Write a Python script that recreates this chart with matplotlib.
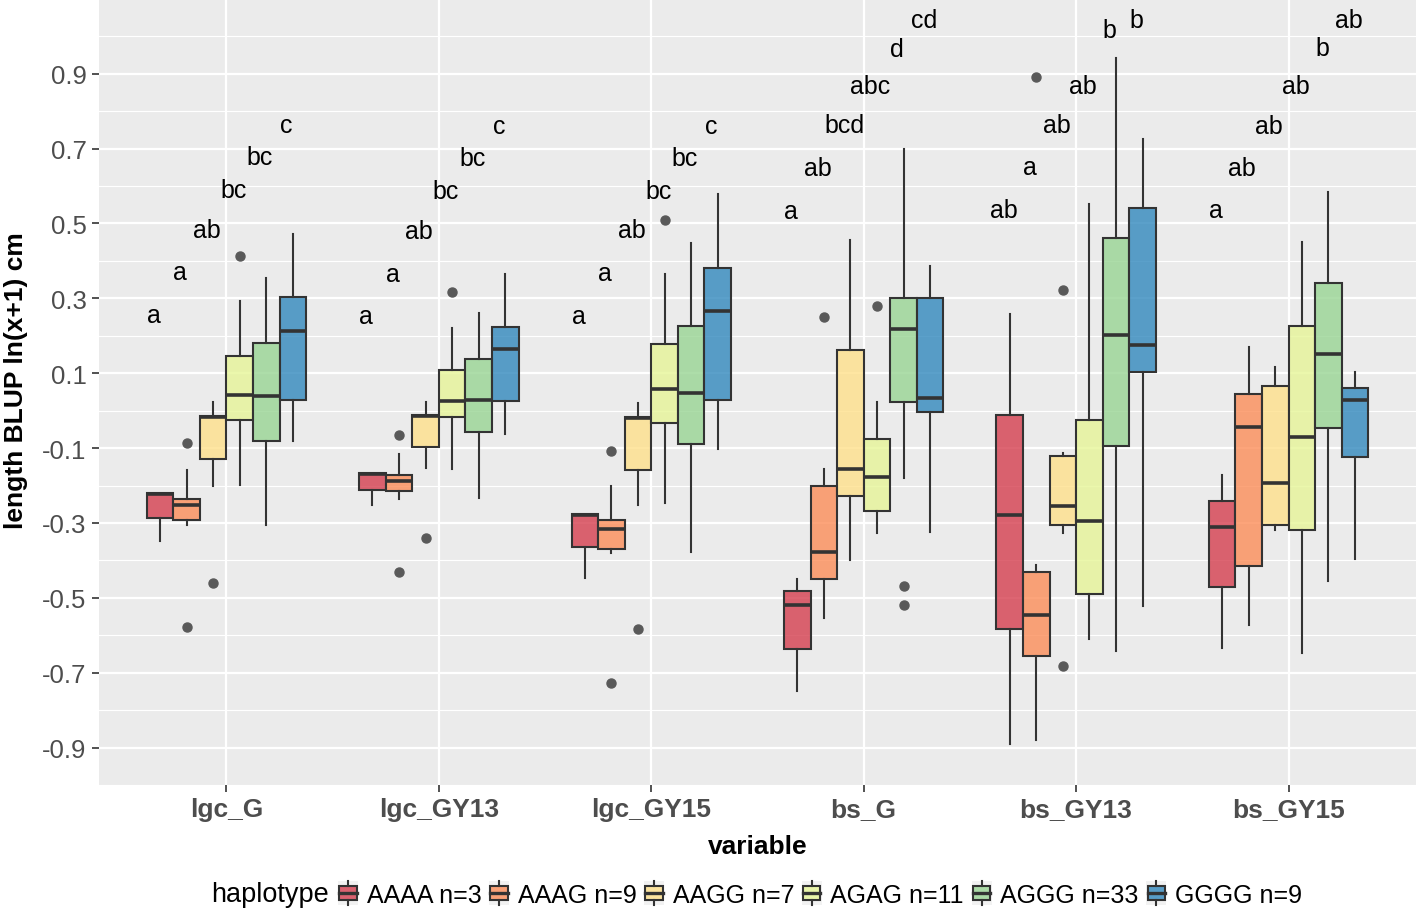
import numpy as np
import matplotlib
matplotlib.use("Agg")
import matplotlib.pyplot as plt
from matplotlib.colors import to_rgba
from matplotlib.patches import Rectangle, Patch
from matplotlib.lines import Line2D
from matplotlib.legend_handler import HandlerBase

plt.rcParams['font.family'] = ['Liberation Sans', 'DejaVu Sans']
plt.rcParams['axes.unicode_minus'] = False

variables = ["lgc_G", "lgc_GY13", "lgc_GY15", "bs_G", "bs_GY13", "bs_GY15"]
haplotypes = ["AAAA n=3", "AAAG n=9", "AAGG n=7", "AGAG n=11", "AGGG n=33", "GGGG n=9"]
colors = ["#d53e4f", "#fc8d59", "#fee08b", "#e6f598", "#99d594", "#3288bd"]

# box statistics, one row per variable, one column per haplotype
whislo = [[-0.348, -0.305, -0.201, -0.199, -0.305, -0.082],
          [-0.251, -0.236, -0.152, -0.155, -0.234, -0.063],
          [-0.448, -0.379, -0.253, -0.247, -0.377, -0.103],
          [-0.750, -0.554, -0.398, -0.328, -0.180, -0.324],
          [-0.891, -0.881, -0.328, -0.611, -0.642, -0.523],
          [-0.635, -0.572, -0.318, -0.647, -0.454, -0.395]]
q1 = [[-0.286, -0.291, -0.128, -0.025, -0.080, 0.029],
      [-0.212, -0.215, -0.097, -0.018, -0.057, 0.025],
      [-0.363, -0.369, -0.158, -0.032, -0.090, 0.029],
      [-0.636, -0.450, -0.229, -0.267, 0.024, -0.004],
      [-0.584, -0.656, -0.305, -0.491, -0.094, 0.102],
      [-0.472, -0.416, -0.306, -0.318, -0.046, -0.123]]
med = [[-0.223, -0.251, -0.016, 0.043, 0.038, 0.214],
       [-0.168, -0.187, -0.013, 0.025, 0.029, 0.164],
       [-0.280, -0.316, -0.020, 0.059, 0.047, 0.265],
       [-0.520, -0.377, -0.157, -0.178, 0.217, 0.033],
       [-0.278, -0.547, -0.256, -0.295, 0.201, 0.175],
       [-0.310, -0.044, -0.194, -0.070, 0.151, 0.028]]
q3 = [[-0.220, -0.236, -0.014, 0.145, 0.181, 0.304],
      [-0.166, -0.172, -0.011, 0.109, 0.138, 0.224],
      [-0.277, -0.292, -0.018, 0.178, 0.225, 0.380],
      [-0.483, -0.200, 0.162, -0.076, 0.302, 0.300],
      [-0.011, -0.430, -0.121, -0.024, 0.460, 0.542],
      [-0.241, 0.045, 0.066, 0.226, 0.340, 0.060]]
whishi = [[-0.220, -0.158, 0.022, 0.292, 0.354, 0.471],
          [-0.166, -0.116, 0.024, 0.221, 0.262, 0.364],
          [-0.277, -0.200, 0.020, 0.365, 0.448, 0.580],
          [-0.449, -0.155, 0.455, 0.022, 0.698, 0.386],
          [0.257, -0.412, -0.113, 0.552, 0.943, 0.725],
          [-0.173, 0.169, 0.117, 0.450, 0.584, 0.102]]
# outliers: (variable index, haplotype index) -> values
outliers = {(0, 1): [-0.087, -0.579], (0, 2): [-0.460], (0, 3): [0.414],
            (1, 1): [-0.066, -0.431], (1, 2): [-0.341], (1, 3): [0.318],
            (2, 1): [-0.107, -0.728], (2, 2): [-0.583], (2, 3): [0.509],
            (3, 1): [0.251], (3, 3): [0.280], (3, 4): [-0.469, -0.518],
            (4, 1): [0.890], (4, 2): [0.321, -0.683]}

letters = [["a", "a", "ab", "bc", "bc", "c"],
           ["a", "a", "ab", "bc", "bc", "c"],
           ["a", "a", "ab", "bc", "bc", "c"],
           ["a", "ab", "bcd", "abc", "d", "cd"],
           ["ab", "a", "ab", "ab", "b", "b"],
           ["a", "ab", "ab", "ab", "b", "ab"]]
letter_y = [[0.256, 0.370, 0.483, 0.590, 0.677, 0.763],
            [0.254, 0.366, 0.480, 0.587, 0.675, 0.760],
            [0.253, 0.368, 0.482, 0.588, 0.675, 0.761],
            [0.533, 0.648, 0.763, 0.866, 0.965, 1.043],
            [0.537, 0.650, 0.762, 0.866, 1.017, 1.044],
            [0.535, 0.648, 0.760, 0.866, 0.968, 1.043]]

edge = "#333333"
bw = 0.75 / len(haplotypes)

fig = plt.figure(figsize=(14.18, 9.12), dpi=100)
ax = fig.add_axes([99/1418, 126/912, 1317/1418, 785/912])
ax.set_facecolor("#ebebeb")
for s in ax.spines.values():
    s.set_visible(False)

for g in range(len(variables)):
    for h in range(len(haplotypes)):
        pos = g + 1 + (h - 2.5) * bw
        st = dict(whislo=whislo[g][h], q1=q1[g][h], med=med[g][h], q3=q3[g][h],
                  whishi=whishi[g][h], fliers=outliers.get((g, h), []))
        ax.bxp([st], positions=[pos], widths=[bw], patch_artist=True, showcaps=False,
               boxprops=dict(facecolor=to_rgba(colors[h], 0.8), edgecolor=edge, linewidth=1.5),
               medianprops=dict(color=edge, linewidth=2.6, solid_capstyle="butt"),
               whiskerprops=dict(color=edge, linewidth=1.5),
               flierprops=dict(marker="o", markerfacecolor="#595959", markeredgecolor="#595959",
                               markersize=6.5),
               manage_ticks=False)
        ax.text(pos - 0.03, letter_y[g][h], letters[g][h], ha="center", va="center",
                fontsize=18, color="black")

ax.set_xlim(0.4, 6.6)
ax.set_ylim(-0.993, 1.097)
ax.set_xticks(range(1, len(variables) + 1))
ax.set_xticklabels(variables, fontsize=19, fontweight="bold", color="#4d4d4d")
yt = np.arange(-0.9, 0.95, 0.2)
ax.set_yticks(yt)
ax.set_yticklabels(["%.1f" % v for v in yt], fontsize=18.5, color="#4d4d4d")
ax.set_yticks(np.arange(-1.0, 1.05, 0.2), minor=True)
ax.tick_params(axis="both", which="major", length=5, width=1.2, color=edge, pad=4)
ax.tick_params(axis="both", which="minor", length=0)
ax.grid(True, which="major", color="white", linewidth=1.6)
ax.grid(True, which="minor", axis="y", color="white", linewidth=0.8)
ax.set_axisbelow(True)
ax.set_ylabel("length BLUP ln(x+1) cm", fontsize=19, fontweight="bold")
ax.yaxis.set_label_coords(-71/1317, (786 - 381) / 785)

fig.text(757.5/1418, 1 - 847/912, "variable", ha="center", va="center",
         fontsize=19, fontweight="bold")


class BoxKey(HandlerBase):
    def create_artists(self, legend, orig_handle, xdescent, ydescent, width, height, fontsize, trans):
        x0, y0 = -xdescent, -ydescent
        bg = Rectangle((x0, y0), width, height, facecolor="#f2f2f2", edgecolor="none", transform=trans)
        w = width * 0.86
        bx = x0 + (width - w) / 2
        by = y0 + height * 0.2
        bh = height * 0.6
        box = Rectangle((bx, by), w, bh, facecolor=orig_handle.get_facecolor(), edgecolor=edge,
                        linewidth=1.5, transform=trans)
        cx = x0 + width / 2
        mline = Line2D([bx, bx + w], [y0 + height / 2] * 2, color=edge, linewidth=2.4, transform=trans)
        wl = Line2D([cx, cx], [y0, by], color=edge, linewidth=1.5, transform=trans)
        wh = Line2D([cx, cx], [by + bh, y0 + height], color=edge, linewidth=1.5, transform=trans)
        return [bg, box, mline, wl, wh]


handles = [Patch(facecolor=to_rgba(c, 0.8)) for c in colors]
fig.legend(handles, haplotypes, handler_map={Patch: BoxKey()}, loc="center left",
           bbox_to_anchor=(338/1418, 1 - 895/912), ncol=len(haplotypes), frameon=False,
           fontsize=18, borderpad=0, borderaxespad=0, handlelength=0.8, handleheight=1.1,
           handletextpad=0.35, columnspacing=0.3)
fig.text(329/1418, 1 - 895/912, "haplotype", ha="right", va="center", fontsize=19.5)

fig.savefig("out.png", dpi=100)
